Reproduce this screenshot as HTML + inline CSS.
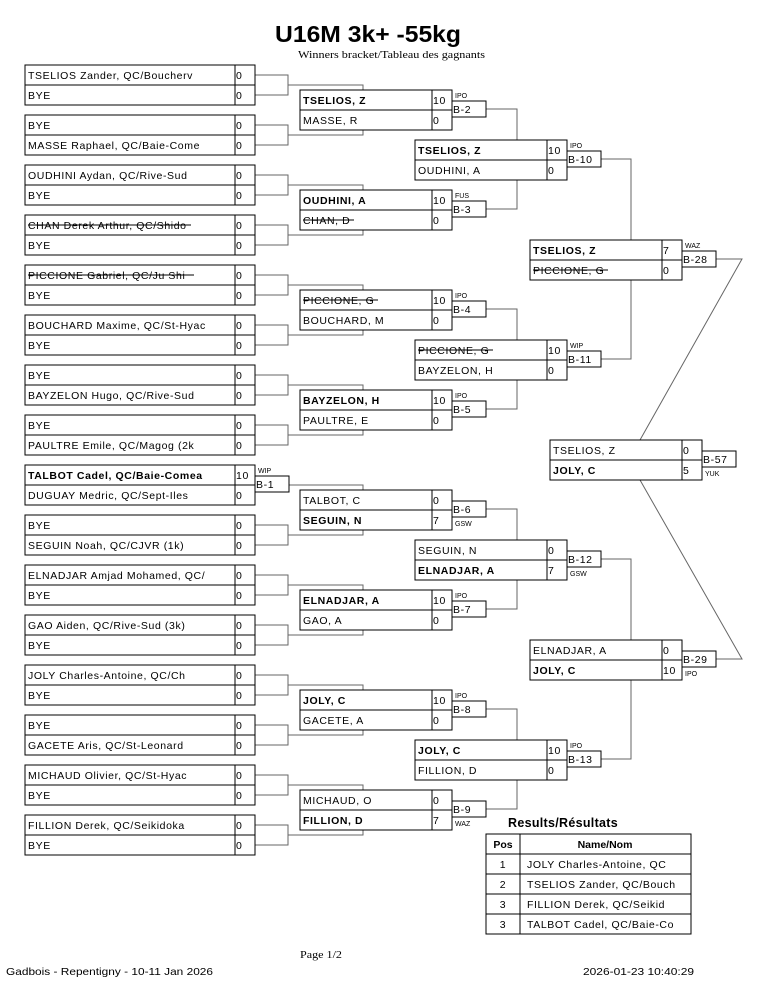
<!DOCTYPE html>
<html><head><meta charset="utf-8"><style>
html,body{margin:0;padding:0;background:#fff;}
svg{display:block;}
text{font-family:"Liberation Sans",Arial,sans-serif;font-size:10.5px;fill:#000;letter-spacing:0.6px;}
.b{font-weight:bold;}
.c{font-size:7px;letter-spacing:0;}
.bx{fill:#fff;stroke:#000;stroke-width:1;}
.ln{stroke:#000;stroke-width:1;}
.cn{fill:none;stroke:#666;stroke-width:1;}
.st{stroke:#000;stroke-width:1;}
</style></head><body>
<svg width="765" height="990" viewBox="0 0 765 990" xmlns="http://www.w3.org/2000/svg">
<text x="275" y="42" textLength="186" lengthAdjust="spacingAndGlyphs" style="font-size:23px;font-weight:bold;letter-spacing:0">U16M 3k+ -55kg</text>
<text x="298" y="58" textLength="187" lengthAdjust="spacingAndGlyphs" style="font-family:'Liberation Serif',serif;font-size:11px;letter-spacing:0">Winners bracket/Tableau des gagnants</text>

<!-- connectors -->
<path class="cn" d="M255,75H288V95H255M288,85H363V90
M255,125H288V145H255M288,135H363V130
M255,175H288V195H255M288,185H363V190
M255,225H288V245H255M288,235H363V230
M255,275H288V295H255M288,285H363V290
M255,325H288V345H255M288,335H363V330
M255,375H288V395H255M288,385H363V390
M255,425H288V445H255M288,435H363V430
M289,485H363V490
M255,525H288V545H255M288,535H363V530
M255,575H288V595H255M288,585H363V590
M255,625H288V645H255M288,635H363V630
M255,675H288V695H255M288,685H363V690
M255,725H288V745H255M288,735H363V730
M255,775H288V795H255M288,785H363V790
M255,825H288V845H255M288,835H363V830
M486,109H517V140M486,209H517V180M486,309H517V340M486,409H517V380
M486,509H517V540M486,609H517V580M486,709H517V740M486,809H517V780
M601,159H631V240M601,359H631V280M601,559H631V640M601,759H631V680
M716,259H742L640,440M716,659H742L640,480"/>

<!-- Round 1 -->
<g transform="translate(25,65)"><rect class="bx" width="230" height="40"/><line class="ln" x1="210" y1="0" x2="210" y2="40"/><line class="ln" x1="0" y1="20" x2="230" y2="20"/>
<text x="3" y="14">TSELIOS Zander, QC/Boucherv</text><text x="3" y="34">BYE</text><text x="211" y="14">0</text><text x="211" y="34">0</text></g>
<g transform="translate(25,115)"><rect class="bx" width="230" height="40"/><line class="ln" x1="210" y1="0" x2="210" y2="40"/><line class="ln" x1="0" y1="20" x2="230" y2="20"/>
<text x="3" y="14">BYE</text><text x="3" y="34">MASSE Raphael, QC/Baie-Come</text><text x="211" y="14">0</text><text x="211" y="34">0</text></g>
<g transform="translate(25,165)"><rect class="bx" width="230" height="40"/><line class="ln" x1="210" y1="0" x2="210" y2="40"/><line class="ln" x1="0" y1="20" x2="230" y2="20"/>
<text x="3" y="14">OUDHINI Aydan, QC/Rive-Sud</text><text x="3" y="34">BYE</text><text x="211" y="14">0</text><text x="211" y="34">0</text></g>
<g transform="translate(25,215)"><rect class="bx" width="230" height="40"/><line class="ln" x1="210" y1="0" x2="210" y2="40"/><line class="ln" x1="0" y1="20" x2="230" y2="20"/>
<text x="3" y="14">CHAN Derek Arthur, QC/Shido</text><line class="st" x1="3" y1="10" x2="166" y2="10"/><text x="3" y="34">BYE</text><text x="211" y="14">0</text><text x="211" y="34">0</text></g>
<g transform="translate(25,265)"><rect class="bx" width="230" height="40"/><line class="ln" x1="210" y1="0" x2="210" y2="40"/><line class="ln" x1="0" y1="20" x2="230" y2="20"/>
<text x="3" y="14">PICCIONE Gabriel, QC/Ju Shi</text><line class="st" x1="3" y1="10" x2="169" y2="10"/><text x="3" y="34">BYE</text><text x="211" y="14">0</text><text x="211" y="34">0</text></g>
<g transform="translate(25,315)"><rect class="bx" width="230" height="40"/><line class="ln" x1="210" y1="0" x2="210" y2="40"/><line class="ln" x1="0" y1="20" x2="230" y2="20"/>
<text x="3" y="14">BOUCHARD Maxime, QC/St-Hyac</text><text x="3" y="34">BYE</text><text x="211" y="14">0</text><text x="211" y="34">0</text></g>
<g transform="translate(25,365)"><rect class="bx" width="230" height="40"/><line class="ln" x1="210" y1="0" x2="210" y2="40"/><line class="ln" x1="0" y1="20" x2="230" y2="20"/>
<text x="3" y="14">BYE</text><text x="3" y="34">BAYZELON Hugo, QC/Rive-Sud</text><text x="211" y="14">0</text><text x="211" y="34">0</text></g>
<g transform="translate(25,415)"><rect class="bx" width="230" height="40"/><line class="ln" x1="210" y1="0" x2="210" y2="40"/><line class="ln" x1="0" y1="20" x2="230" y2="20"/>
<text x="3" y="14">BYE</text><text x="3" y="34">PAULTRE Emile, QC/Magog (2k</text><text x="211" y="14">0</text><text x="211" y="34">0</text></g>
<g transform="translate(25,465)"><rect class="bx" width="230" height="40"/><line class="ln" x1="210" y1="0" x2="210" y2="40"/><line class="ln" x1="0" y1="20" x2="232" y2="20"/>
<text class="b" x="3" y="14">TALBOT Cadel, QC/Baie-Comea</text><text x="3" y="34">DUGUAY Medric, QC/Sept-Iles</text><text x="211" y="14">10</text><text x="211" y="34">0</text>
<rect class="bx" x="230" y="11" width="34" height="16"/><text x="231" y="23">B-1</text><text class="c" x="233" y="8">WIP</text></g>
<g transform="translate(25,515)"><rect class="bx" width="230" height="40"/><line class="ln" x1="210" y1="0" x2="210" y2="40"/><line class="ln" x1="0" y1="20" x2="230" y2="20"/>
<text x="3" y="14">BYE</text><text x="3" y="34">SEGUIN Noah, QC/CJVR (1k)</text><text x="211" y="14">0</text><text x="211" y="34">0</text></g>
<g transform="translate(25,565)"><rect class="bx" width="230" height="40"/><line class="ln" x1="210" y1="0" x2="210" y2="40"/><line class="ln" x1="0" y1="20" x2="230" y2="20"/>
<text x="3" y="14">ELNADJAR Amjad Mohamed, QC/</text><text x="3" y="34">BYE</text><text x="211" y="14">0</text><text x="211" y="34">0</text></g>
<g transform="translate(25,615)"><rect class="bx" width="230" height="40"/><line class="ln" x1="210" y1="0" x2="210" y2="40"/><line class="ln" x1="0" y1="20" x2="230" y2="20"/>
<text x="3" y="14">GAO Aiden, QC/Rive-Sud (3k)</text><text x="3" y="34">BYE</text><text x="211" y="14">0</text><text x="211" y="34">0</text></g>
<g transform="translate(25,665)"><rect class="bx" width="230" height="40"/><line class="ln" x1="210" y1="0" x2="210" y2="40"/><line class="ln" x1="0" y1="20" x2="230" y2="20"/>
<text x="3" y="14">JOLY Charles-Antoine, QC/Ch</text><text x="3" y="34">BYE</text><text x="211" y="14">0</text><text x="211" y="34">0</text></g>
<g transform="translate(25,715)"><rect class="bx" width="230" height="40"/><line class="ln" x1="210" y1="0" x2="210" y2="40"/><line class="ln" x1="0" y1="20" x2="230" y2="20"/>
<text x="3" y="14">BYE</text><text x="3" y="34">GACETE Aris, QC/St-Leonard</text><text x="211" y="14">0</text><text x="211" y="34">0</text></g>
<g transform="translate(25,765)"><rect class="bx" width="230" height="40"/><line class="ln" x1="210" y1="0" x2="210" y2="40"/><line class="ln" x1="0" y1="20" x2="230" y2="20"/>
<text x="3" y="14">MICHAUD Olivier, QC/St-Hyac</text><text x="3" y="34">BYE</text><text x="211" y="14">0</text><text x="211" y="34">0</text></g>
<g transform="translate(25,815)"><rect class="bx" width="230" height="40"/><line class="ln" x1="210" y1="0" x2="210" y2="40"/><line class="ln" x1="0" y1="20" x2="230" y2="20"/>
<text x="3" y="14">FILLION Derek, QC/Seikidoka</text><text x="3" y="34">BYE</text><text x="211" y="14">0</text><text x="211" y="34">0</text></g>

<!-- Round 2 -->
<g transform="translate(300,90)"><rect class="bx" width="152" height="40"/><line class="ln" x1="132" y1="0" x2="132" y2="40"/><line class="ln" x1="0" y1="20" x2="154" y2="20"/>
<text class="b" x="3" y="14">TSELIOS, Z</text><text x="3" y="34">MASSE, R</text><text x="133" y="14">10</text><text x="133" y="34">0</text>
<rect class="bx" x="152" y="11" width="34" height="16"/><text x="153" y="23">B-2</text><text class="c" x="155" y="8">IPO</text></g>
<g transform="translate(300,190)"><rect class="bx" width="152" height="40"/><line class="ln" x1="132" y1="0" x2="132" y2="40"/><line class="ln" x1="0" y1="20" x2="154" y2="20"/>
<text class="b" x="3" y="14">OUDHINI, A</text><text x="3" y="34">CHAN, D</text><line class="st" x1="3" y1="30" x2="54" y2="30"/><text x="133" y="14">10</text><text x="133" y="34">0</text>
<rect class="bx" x="152" y="11" width="34" height="16"/><text x="153" y="23">B-3</text><text class="c" x="155" y="8">FUS</text></g>
<g transform="translate(300,290)"><rect class="bx" width="152" height="40"/><line class="ln" x1="132" y1="0" x2="132" y2="40"/><line class="ln" x1="0" y1="20" x2="154" y2="20"/>
<text x="3" y="14">PICCIONE, G</text><line class="st" x1="3" y1="10" x2="78" y2="10"/><text x="3" y="34">BOUCHARD, M</text><text x="133" y="14">10</text><text x="133" y="34">0</text>
<rect class="bx" x="152" y="11" width="34" height="16"/><text x="153" y="23">B-4</text><text class="c" x="155" y="8">IPO</text></g>
<g transform="translate(300,390)"><rect class="bx" width="152" height="40"/><line class="ln" x1="132" y1="0" x2="132" y2="40"/><line class="ln" x1="0" y1="20" x2="154" y2="20"/>
<text class="b" x="3" y="14">BAYZELON, H</text><text x="3" y="34">PAULTRE, E</text><text x="133" y="14">10</text><text x="133" y="34">0</text>
<rect class="bx" x="152" y="11" width="34" height="16"/><text x="153" y="23">B-5</text><text class="c" x="155" y="8">IPO</text></g>
<g transform="translate(300,490)"><rect class="bx" width="152" height="40"/><line class="ln" x1="132" y1="0" x2="132" y2="40"/><line class="ln" x1="0" y1="20" x2="154" y2="20"/>
<text x="3" y="14">TALBOT, C</text><text class="b" x="3" y="34">SEGUIN, N</text><text x="133" y="14">0</text><text x="133" y="34">7</text>
<rect class="bx" x="152" y="11" width="34" height="16"/><text x="153" y="23">B-6</text><text class="c" x="155" y="36">GSW</text></g>
<g transform="translate(300,590)"><rect class="bx" width="152" height="40"/><line class="ln" x1="132" y1="0" x2="132" y2="40"/><line class="ln" x1="0" y1="20" x2="154" y2="20"/>
<text class="b" x="3" y="14">ELNADJAR, A</text><text x="3" y="34">GAO, A</text><text x="133" y="14">10</text><text x="133" y="34">0</text>
<rect class="bx" x="152" y="11" width="34" height="16"/><text x="153" y="23">B-7</text><text class="c" x="155" y="8">IPO</text></g>
<g transform="translate(300,690)"><rect class="bx" width="152" height="40"/><line class="ln" x1="132" y1="0" x2="132" y2="40"/><line class="ln" x1="0" y1="20" x2="154" y2="20"/>
<text class="b" x="3" y="14">JOLY, C</text><text x="3" y="34">GACETE, A</text><text x="133" y="14">10</text><text x="133" y="34">0</text>
<rect class="bx" x="152" y="11" width="34" height="16"/><text x="153" y="23">B-8</text><text class="c" x="155" y="8">IPO</text></g>
<g transform="translate(300,790)"><rect class="bx" width="152" height="40"/><line class="ln" x1="132" y1="0" x2="132" y2="40"/><line class="ln" x1="0" y1="20" x2="154" y2="20"/>
<text x="3" y="14">MICHAUD, O</text><text class="b" x="3" y="34">FILLION, D</text><text x="133" y="14">0</text><text x="133" y="34">7</text>
<rect class="bx" x="152" y="11" width="34" height="16"/><text x="153" y="23">B-9</text><text class="c" x="155" y="36">WAZ</text></g>

<!-- Round 3 -->
<g transform="translate(415,140)"><rect class="bx" width="152" height="40"/><line class="ln" x1="132" y1="0" x2="132" y2="40"/><line class="ln" x1="0" y1="20" x2="154" y2="20"/>
<text class="b" x="3" y="14">TSELIOS, Z</text><text x="3" y="34">OUDHINI, A</text><text x="133" y="14">10</text><text x="133" y="34">0</text>
<rect class="bx" x="152" y="11" width="34" height="16"/><text x="153" y="23">B-10</text><text class="c" x="155" y="8">IPO</text></g>
<g transform="translate(415,340)"><rect class="bx" width="152" height="40"/><line class="ln" x1="132" y1="0" x2="132" y2="40"/><line class="ln" x1="0" y1="20" x2="154" y2="20"/>
<text x="3" y="14">PICCIONE, G</text><line class="st" x1="3" y1="10" x2="78" y2="10"/><text x="3" y="34">BAYZELON, H</text><text x="133" y="14">10</text><text x="133" y="34">0</text>
<rect class="bx" x="152" y="11" width="34" height="16"/><text x="153" y="23">B-11</text><text class="c" x="155" y="8">WIP</text></g>
<g transform="translate(415,540)"><rect class="bx" width="152" height="40"/><line class="ln" x1="132" y1="0" x2="132" y2="40"/><line class="ln" x1="0" y1="20" x2="154" y2="20"/>
<text x="3" y="14">SEGUIN, N</text><text class="b" x="3" y="34">ELNADJAR, A</text><text x="133" y="14">0</text><text x="133" y="34">7</text>
<rect class="bx" x="152" y="11" width="34" height="16"/><text x="153" y="23">B-12</text><text class="c" x="155" y="36">GSW</text></g>
<g transform="translate(415,740)"><rect class="bx" width="152" height="40"/><line class="ln" x1="132" y1="0" x2="132" y2="40"/><line class="ln" x1="0" y1="20" x2="154" y2="20"/>
<text class="b" x="3" y="14">JOLY, C</text><text x="3" y="34">FILLION, D</text><text x="133" y="14">10</text><text x="133" y="34">0</text>
<rect class="bx" x="152" y="11" width="34" height="16"/><text x="153" y="23">B-13</text><text class="c" x="155" y="8">IPO</text></g>

<!-- Round 4 -->
<g transform="translate(530,240)"><rect class="bx" width="152" height="40"/><line class="ln" x1="132" y1="0" x2="132" y2="40"/><line class="ln" x1="0" y1="20" x2="154" y2="20"/>
<text class="b" x="3" y="14">TSELIOS, Z</text><text x="3" y="34">PICCIONE, G</text><line class="st" x1="3" y1="30" x2="78" y2="30"/><text x="133" y="14">7</text><text x="133" y="34">0</text>
<rect class="bx" x="152" y="11" width="34" height="16"/><text x="153" y="23">B-28</text><text class="c" x="155" y="8">WAZ</text></g>
<g transform="translate(530,640)"><rect class="bx" width="152" height="40"/><line class="ln" x1="132" y1="0" x2="132" y2="40"/><line class="ln" x1="0" y1="20" x2="154" y2="20"/>
<text x="3" y="14">ELNADJAR, A</text><text class="b" x="3" y="34">JOLY, C</text><text x="133" y="14">0</text><text x="133" y="34">10</text>
<rect class="bx" x="152" y="11" width="34" height="16"/><text x="153" y="23">B-29</text><text class="c" x="155" y="36">IPO</text></g>

<!-- Final -->
<g transform="translate(550,440)"><rect class="bx" width="152" height="40"/><line class="ln" x1="132" y1="0" x2="132" y2="40"/><line class="ln" x1="0" y1="20" x2="154" y2="20"/>
<text x="3" y="14">TSELIOS, Z</text><text class="b" x="3" y="34">JOLY, C</text><text x="133" y="14">0</text><text x="133" y="34">5</text>
<rect class="bx" x="152" y="11" width="34" height="16"/><text x="153" y="23">B-57</text><text class="c" x="155" y="36">YUK</text></g>

<!-- Results -->
<text x="508" y="827" style="font-size:12.5px;font-weight:bold;letter-spacing:0.3px">Results/Résultats</text>
<rect class="bx" x="486" y="834" width="205" height="100"/>
<path class="ln" d="M486,854H691M486,874H691M486,894H691M486,914H691M520,834V934"/>
<text x="503" y="848" text-anchor="middle" class="b" style="letter-spacing:0">Pos</text>
<text x="605" y="848" text-anchor="middle" class="b" style="letter-spacing:0">Name/Nom</text>
<text x="503" y="868" text-anchor="middle">1</text><text x="527" y="868">JOLY Charles-Antoine, QC</text>
<text x="503" y="888" text-anchor="middle">2</text><text x="527" y="888">TSELIOS Zander, QC/Bouch</text>
<text x="503" y="908" text-anchor="middle">3</text><text x="527" y="908">FILLION Derek, QC/Seikid</text>
<text x="503" y="928" text-anchor="middle">3</text><text x="527" y="928">TALBOT Cadel, QC/Baie-Co</text>

<!-- Footer -->
<text x="300" y="958" textLength="42" lengthAdjust="spacingAndGlyphs" style="font-family:'Liberation Serif',serif;font-size:11px;letter-spacing:0">Page 1/2</text>
<text x="6" y="975" textLength="207" lengthAdjust="spacingAndGlyphs" style="font-size:10.5px;letter-spacing:0">Gadbois - Repentigny - 10-11 Jan 2026</text>
<text x="583" y="975" textLength="111" lengthAdjust="spacingAndGlyphs" style="font-size:10.5px;letter-spacing:0">2026-01-23 10:40:29</text>
</svg>
</body></html>
